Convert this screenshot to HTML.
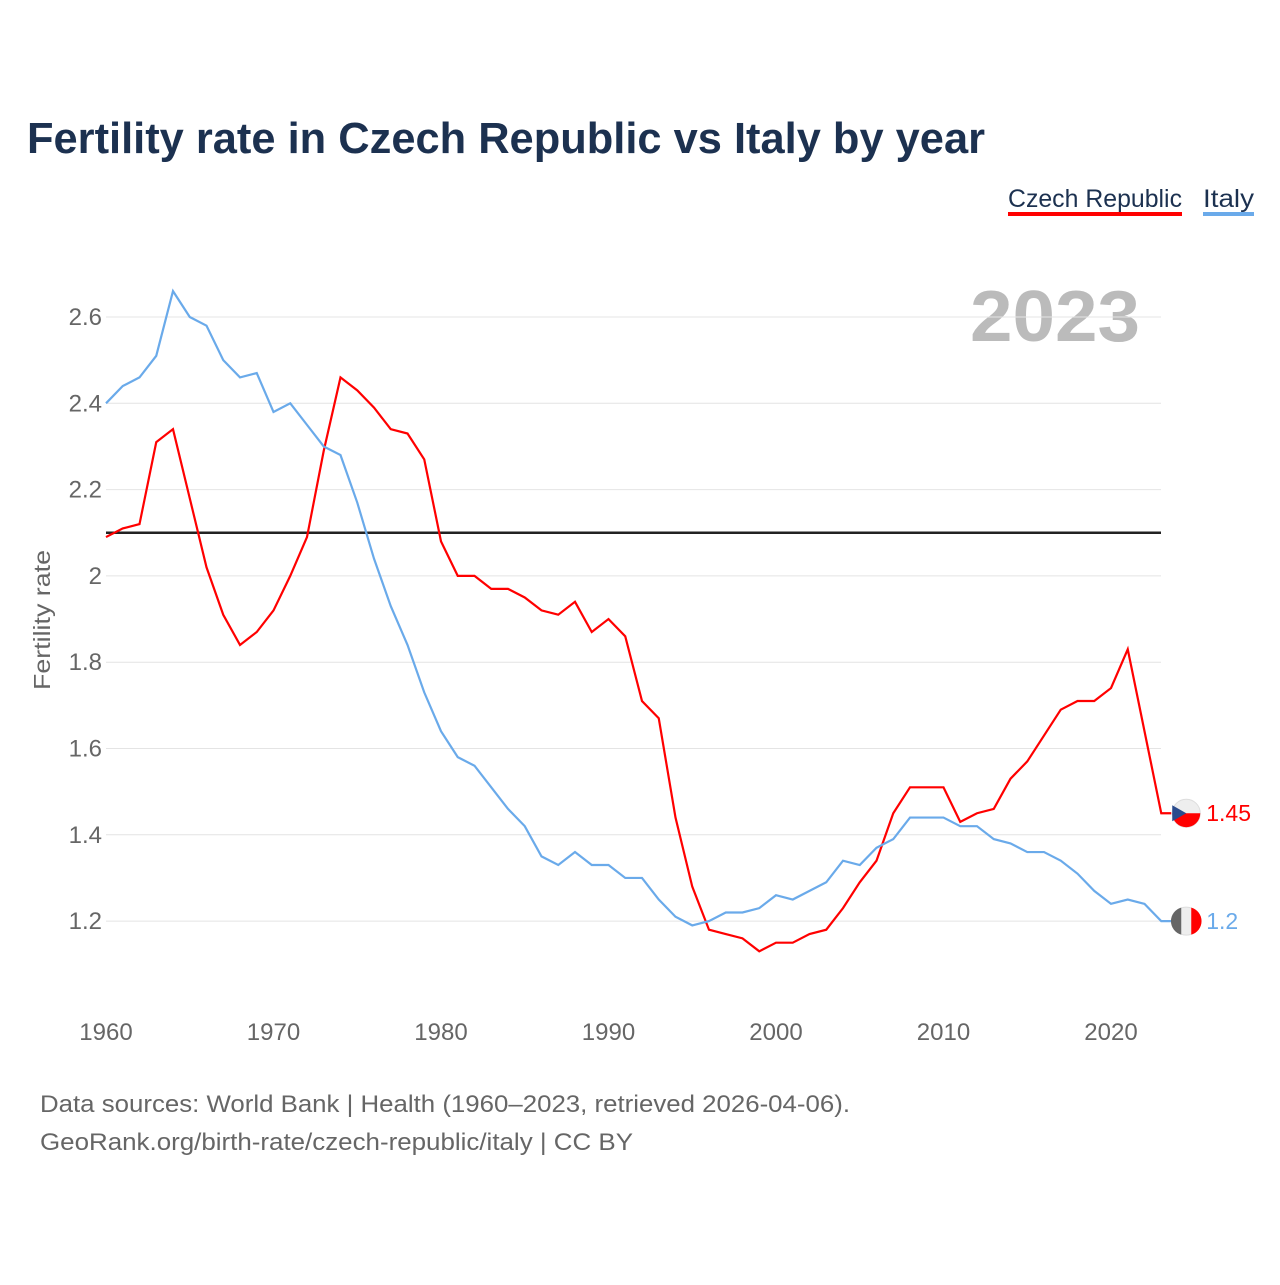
<!DOCTYPE html>
<html><head><meta charset="utf-8"><style>
body{margin:0;background:#fff;font-family:"Liberation Sans",sans-serif;}
svg text{font-family:"Liberation Sans",sans-serif;}
</style></head><body>
<svg width="1280" height="1280" viewBox="0 0 1280 1280">
<text x="27" y="153" font-size="44" font-weight="bold" fill="#1c3150" textLength="958" lengthAdjust="spacingAndGlyphs">Fertility rate in Czech Republic vs Italy by year</text>
<g>
<text x="1008" y="207" font-size="25" fill="#1c3150" textLength="174" lengthAdjust="spacingAndGlyphs">Czech Republic</text>
<rect x="1008" y="212" width="174" height="4" fill="#ff0000"/>
<text x="1203" y="207" font-size="25" fill="#1c3150" textLength="51" lengthAdjust="spacingAndGlyphs">Italy</text>
<rect x="1203" y="212" width="51" height="4" fill="#6aaaea"/>
</g>
<text x="1140" y="341" font-size="72" font-weight="bold" fill="#bbbbbb" text-anchor="end" textLength="170" lengthAdjust="spacingAndGlyphs">2023</text>
<g id="grid"></g><g id="yt"></g><g id="xt"></g>
<text transform="translate(50,620) rotate(-90)" font-size="23" fill="#666" text-anchor="middle" textLength="140" lengthAdjust="spacingAndGlyphs">Fertility rate</text>
<line id="ref" stroke="#222" stroke-width="2.5"/>
<polyline id="lcz" fill="none" stroke="#ff0000" stroke-width="2.2"/>
<polyline id="lit" fill="none" stroke="#6aaaea" stroke-width="2.2"/>
<g id="ends"></g>
<text x="40" y="1112" font-size="24" fill="#666" textLength="810" lengthAdjust="spacingAndGlyphs">Data sources: World Bank | Health (1960–2023, retrieved 2026-04-06).</text>
<text x="40" y="1150" font-size="24" fill="#666" textLength="593" lengthAdjust="spacingAndGlyphs">GeoRank.org/birth-rate/czech-republic/italy | CC BY</text>
</svg>
<script>
const years=[];for(let y=1960;y<=2023;y++)years.push(y);
const czech=[2.09,2.11,2.12,2.31,2.34,2.18,2.02,1.91,1.84,1.87,1.92,2.00,2.09,2.29,2.46,2.43,2.39,2.34,2.33,2.27,2.08,2.00,2.00,1.97,1.97,1.95,1.92,1.91,1.94,1.87,1.90,1.86,1.71,1.67,1.44,1.28,1.18,1.17,1.16,1.13,1.15,1.15,1.17,1.18,1.23,1.29,1.34,1.45,1.51,1.51,1.51,1.43,1.45,1.46,1.53,1.57,1.63,1.69,1.71,1.71,1.74,1.83,1.64,1.45];
const italy=[2.40,2.44,2.46,2.51,2.66,2.60,2.58,2.50,2.46,2.47,2.38,2.40,2.35,2.30,2.28,2.17,2.04,1.93,1.84,1.73,1.64,1.58,1.56,1.51,1.46,1.42,1.35,1.33,1.36,1.33,1.33,1.30,1.30,1.25,1.21,1.19,1.20,1.22,1.22,1.23,1.26,1.25,1.27,1.29,1.34,1.33,1.37,1.39,1.44,1.44,1.44,1.42,1.42,1.39,1.38,1.36,1.36,1.34,1.31,1.27,1.24,1.25,1.24,1.20];
const yTicks=[1.2,1.4,1.6,1.8,2,2.2,2.4,2.6];
const xTicks=[1960,1970,1980,1990,2000,2010,2020];
const refValue=2.1;
const X=y=>106+(y-1960)*16.75, Y=v=>317+(2.6-v)/0.2*86.3;
const NS="http://www.w3.org/2000/svg";
function mk(t,a,p){const e=document.createElementNS(NS,t);for(const k in a)e.setAttribute(k,a[k]);p.appendChild(e);return e;}
const g=document.getElementById('grid'),yt=document.getElementById('yt'),xt=document.getElementById('xt');
yTicks.forEach(v=>{
 const l=mk('line',{x1:106,x2:1161,y1:Y(v),y2:Y(v),stroke:'#e4e4e4','stroke-width':1},g);
 
 
 const t=mk('text',{x:102,y:Y(v)+8,'font-size':24,fill:'#666','text-anchor':'end'},yt);t.textContent=String(v);
 
 
});
xTicks.forEach(y=>{
 const t=mk('text',{x:X(y),y:1040,'font-size':24,fill:'#666','text-anchor':'middle'},xt);t.textContent=y;
 
 
});
const r=document.getElementById('ref');r.setAttribute('x1',106);r.setAttribute('x2',1161);r.setAttribute('y1',Y(refValue));r.setAttribute('y2',Y(refValue));
function pts(a){const p=a.map((v,i)=>X(years[i])+','+Y(v));p.push((X(years[a.length-1])+10)+','+Y(a[a.length-1]));return p.join(' ');}
document.getElementById('lcz').setAttribute('points',pts(czech));
document.getElementById('lit').setAttribute('points',pts(italy));
const ends=document.getElementById('ends');
[[czech,'#ff0000','czech'],[italy,'#6aaaea','italy']].forEach(([a,c,n])=>{
 const v=a[a.length-1],cx=X(years[a.length-1])+25,cy=Y(v);
 const ci=mk('circle',{cx:cx,cy:cy,r:14,fill:'#eee',stroke:'#ddd'},ends);
 
 
 if(n==='czech'){mk('path',{d:`M${cx-14},${cy} A14,14 0 0 0 ${cx+14},${cy} Z`,fill:'#ff0000'},ends);mk('path',{d:`M${cx-14},${cy-8} L${cx},${cy} L${cx-14},${cy+8} Z`,fill:'#2a4b8d'},ends);}
 else{mk('path',{d:`M${cx-5},${cy-13.5} A14,14 0 0 0 ${cx-5},${cy+13.5} Z`,fill:'#666'},ends);mk('path',{d:`M${cx+5},${cy-13.5} A14,14 0 0 1 ${cx+5},${cy+13.5} Z`,fill:'#ff0000'},ends);}
 const t=mk('text',{x:cx+20,y:cy+8,'font-size':23,fill:c},ends);t.textContent=String(v);
 
 
});
</script>
</body></html>
